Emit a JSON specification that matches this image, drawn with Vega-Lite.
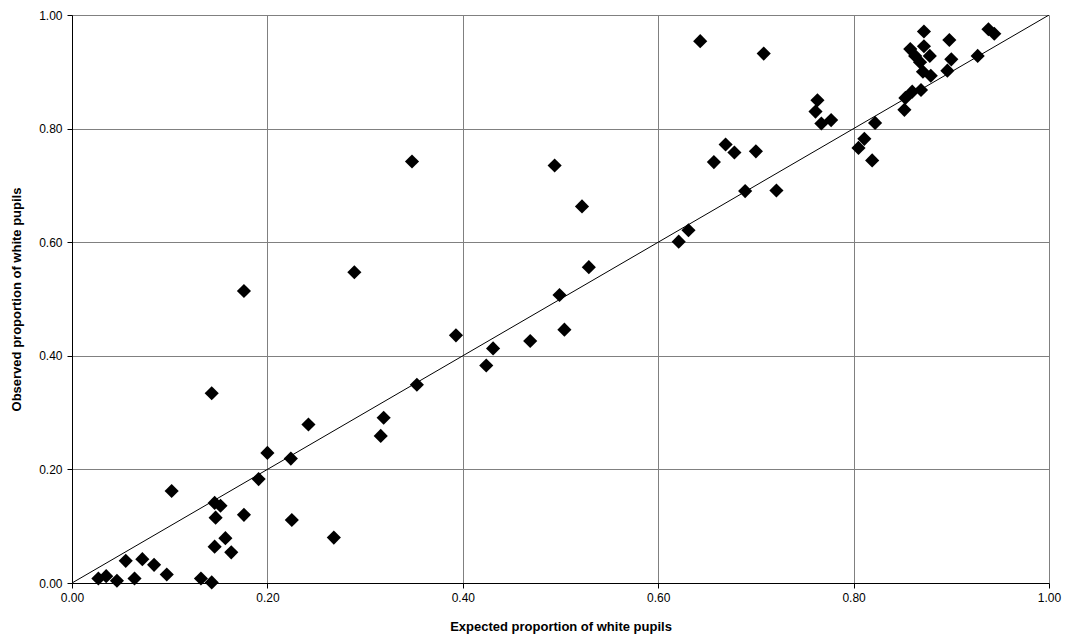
{
  "$schema": "https://vega.github.io/schema/vega-lite/v6.json",
  "width": 977,
  "height": 568,
  "autosize": {"type": "none"},
  "padding": {"left": 72, "top": 15, "right": 20, "bottom": 60},
  "background": "white",
  "config": {
    "view": {"stroke": null},
    "font": "Liberation Sans",
    "axis": {
      "labelFont": "Liberation Sans",
      "titleFont": "Liberation Sans",
      "labelFontSize": 12,
      "titleFontSize": 13,
      "titleFontWeight": "bold",
      "labelColor": "#000000",
      "titleColor": "#000000",
      "domainColor": "#000000",
      "tickColor": "#000000",
      "tickSize": 5,
      "gridColor": "#808080",
      "gridWidth": 1,
      "gridOpacity": 1
    }
  },
  "datasets": {
    "pts": [
      {"expected": 0.027, "observed": 0.008},
      {"expected": 0.035, "observed": 0.012},
      {"expected": 0.046, "observed": 0.004},
      {"expected": 0.055, "observed": 0.039},
      {"expected": 0.064, "observed": 0.008},
      {"expected": 0.072, "observed": 0.042},
      {"expected": 0.084, "observed": 0.032},
      {"expected": 0.097, "observed": 0.015},
      {"expected": 0.102, "observed": 0.162},
      {"expected": 0.132, "observed": 0.008},
      {"expected": 0.143, "observed": 0.001},
      {"expected": 0.143, "observed": 0.334},
      {"expected": 0.146, "observed": 0.064},
      {"expected": 0.146, "observed": 0.141},
      {"expected": 0.152, "observed": 0.136},
      {"expected": 0.147, "observed": 0.115},
      {"expected": 0.157, "observed": 0.079},
      {"expected": 0.163, "observed": 0.054},
      {"expected": 0.176, "observed": 0.120},
      {"expected": 0.176, "observed": 0.514},
      {"expected": 0.191, "observed": 0.183},
      {"expected": 0.200, "observed": 0.229},
      {"expected": 0.225, "observed": 0.111},
      {"expected": 0.224, "observed": 0.219},
      {"expected": 0.242, "observed": 0.279},
      {"expected": 0.268, "observed": 0.080},
      {"expected": 0.289, "observed": 0.547},
      {"expected": 0.316, "observed": 0.259},
      {"expected": 0.319, "observed": 0.291},
      {"expected": 0.348, "observed": 0.742},
      {"expected": 0.353, "observed": 0.349},
      {"expected": 0.393, "observed": 0.436},
      {"expected": 0.424, "observed": 0.383},
      {"expected": 0.431, "observed": 0.413},
      {"expected": 0.469, "observed": 0.426},
      {"expected": 0.494, "observed": 0.735},
      {"expected": 0.499, "observed": 0.507},
      {"expected": 0.504, "observed": 0.446},
      {"expected": 0.522, "observed": 0.663},
      {"expected": 0.529, "observed": 0.556},
      {"expected": 0.621, "observed": 0.601},
      {"expected": 0.631, "observed": 0.621},
      {"expected": 0.643, "observed": 0.954},
      {"expected": 0.657, "observed": 0.741},
      {"expected": 0.669, "observed": 0.772},
      {"expected": 0.678, "observed": 0.758},
      {"expected": 0.689, "observed": 0.690},
      {"expected": 0.700, "observed": 0.760},
      {"expected": 0.708, "observed": 0.932},
      {"expected": 0.721, "observed": 0.691},
      {"expected": 0.761, "observed": 0.830},
      {"expected": 0.763, "observed": 0.850},
      {"expected": 0.767, "observed": 0.809},
      {"expected": 0.777, "observed": 0.815},
      {"expected": 0.805, "observed": 0.766},
      {"expected": 0.811, "observed": 0.782},
      {"expected": 0.819, "observed": 0.744},
      {"expected": 0.822, "observed": 0.810},
      {"expected": 0.852, "observed": 0.833},
      {"expected": 0.853, "observed": 0.854},
      {"expected": 0.860, "observed": 0.865},
      {"expected": 0.869, "observed": 0.868},
      {"expected": 0.858, "observed": 0.940},
      {"expected": 0.872, "observed": 0.971},
      {"expected": 0.872, "observed": 0.945},
      {"expected": 0.863, "observed": 0.928},
      {"expected": 0.868, "observed": 0.917},
      {"expected": 0.878, "observed": 0.928},
      {"expected": 0.898, "observed": 0.956},
      {"expected": 0.900, "observed": 0.922},
      {"expected": 0.871, "observed": 0.900},
      {"expected": 0.879, "observed": 0.893},
      {"expected": 0.896, "observed": 0.902},
      {"expected": 0.927, "observed": 0.928},
      {"expected": 0.938, "observed": 0.975},
      {"expected": 0.944, "observed": 0.967}
    ],
    "diag": [
      {"expected": 0, "observed": 0},
      {"expected": 1, "observed": 1}
    ]
  },
  "layer": [
    {
      "data": {"name": "diag"},
      "mark": {"type": "line", "color": "black", "strokeWidth": 1, "clip": true},
      "encoding": {
        "x": {
          "field": "expected", "type": "quantitative",
          "scale": {"domain": [0, 1], "nice": false, "zero": true},
          "axis": {
            "title": "Expected proportion of white pupils",
            "format": ".2f",
            "values": [0, 0.2, 0.4, 0.6, 0.8, 1.0],
            "labelPadding": 4,
            "titlePadding": 17,
            "labelFlush": false
          }
        },
        "y": {
          "field": "observed", "type": "quantitative",
          "scale": {"domain": [0, 1], "nice": false, "zero": true},
          "axis": {
            "title": "Observed proportion of white pupils",
            "format": ".2f",
            "values": [0, 0.2, 0.4, 0.6, 0.8, 1.0],
            "labelPadding": 5,
            "titlePadding": 15,
            "labelFlush": false
          }
        }
      }
    },
    {
      "data": {"name": "pts"},
      "mark": {"type": "point", "shape": "diamond", "filled": true, "color": "black", "opacity": 1, "size": 200},
      "encoding": {
        "x": {"field": "expected", "type": "quantitative"},
        "y": {"field": "observed", "type": "quantitative"}
      }
    }
  ]
}
